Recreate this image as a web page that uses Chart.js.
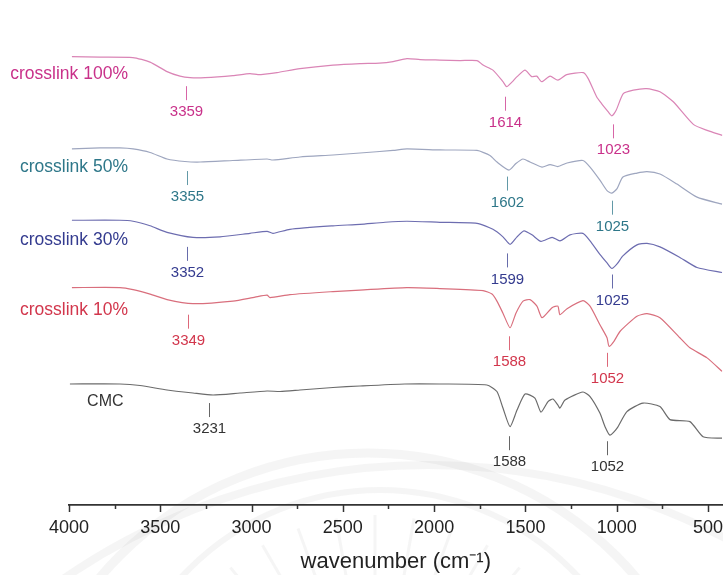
<!DOCTYPE html>
<html>
<head>
<meta charset="utf-8">
<title>FTIR spectra</title>
<script src="https://cdn.jsdelivr.net/npm/chart.js@4.4.1/dist/chart.umd.min.js"></script>
<style>
  html, body { margin: 0; padding: 0; background: #ffffff; }
  #wrap { width: 723px; height: 575px; position: relative; }
</style>
</head>
<body>
<div id="wrap"><canvas id="ftir"></canvas></div>
<script>
// Spectra (offset transmittance, a.u.) against wavenumber in cm^-1
const seriesNames = ['crosslink 100%', 'crosslink 50%', 'crosslink 30%', 'crosslink 10%', 'CMC'];

const wn100 = [3984,3830,3650,3556,3463,3392,3337,3255,3102,3009,2965,2926,2861,2735,2554,2406,2300,2225,2149,2077,1968,1858,1765,1732,1678,1623,1603,1574,1546,1502,1466,1438,1411,1365,1322,1274,1183,1156,1110,1082,1053,1027,1003,964,909,836,763,690,580,505,422];
const t100  = [89.3,89.2,89.1,88.2,86.3,85.4,85.1,85.1,85.5,85.9,85.7,85.8,86.1,86.9,87.6,87.9,88.0,88.3,88.9,88.7,88.6,88.5,88.5,87.6,86.6,84.3,83.3,84.2,85.3,86.6,85.3,85.4,84.3,85.4,84.6,85.7,86.1,84.9,81.3,79.9,78.6,77.5,78.6,81.9,82.6,82.9,82.3,80.3,75.8,74.6,73.6];

const wn50 = [3984,3830,3721,3649,3556,3463,3365,3282,3102,2915,2883,2735,2554,2406,2225,2149,1968,1765,1694,1656,1590,1552,1513,1475,1409,1365,1322,1272,1185,1146,1092,1053,1027,998,966,889,834,763,670,560,423];
const t50  = [70.9,71.1,71.1,70.9,70.2,68.9,68.4,68.3,68.6,68.9,68.7,69.3,69.7,70.1,70.6,70.9,70.7,70.6,69.6,68.3,66.7,68.0,68.9,68.3,67.3,67.8,67.4,68.1,68.6,67.3,64.7,62.6,62.1,63.0,65.3,66.1,66.4,65.9,63.9,61.3,59.9];

const wn30 = [3984,3721,3649,3556,3463,3321,3173,3009,2915,2883,2790,2554,2406,2269,2149,1968,1765,1678,1623,1584,1546,1508,1464,1415,1354,1311,1256,1185,1146,1092,1053,1026,998,966,889,834,763,654,560,423];
const t30  = [56.7,56.7,56.5,55.6,54.3,53.3,53.4,54.1,54.5,54.1,54.9,55.6,55.9,56.3,56.5,56.3,56.1,54.9,53.4,51.9,53.4,54.6,53.8,52.5,53.3,52.6,53.8,54.1,52.6,49.9,48.2,47.1,48.0,49.6,51.8,52.1,51.4,49.3,47.3,46.3];

const wn10 = [3984,3721,3649,3556,3463,3321,3102,2981,2915,2899,2790,2554,2406,2149,1968,1732,1683,1656,1623,1584,1552,1513,1475,1437,1409,1354,1322,1311,1272,1185,1146,1092,1053,1042,1015,981,889,834,763,654,599,505,423];
const t10  = [43.3,43.3,42.9,42.0,40.9,40.1,40.6,41.4,41.8,41.3,41.9,42.5,42.8,43.3,43.1,42.7,42.0,40.6,38.2,35.3,38.2,40.6,40.9,39.6,37.3,39.3,39.6,37.9,39.1,40.7,39.6,35.9,33.3,31.6,32.6,34.6,37.6,38.1,37.3,33.3,31.3,29.3,26.6];

const wnCMC = [3995,3721,3611,3463,3321,3211,3063,2915,2844,2735,2554,2406,2160,1968,1711,1656,1623,1584,1546,1502,1448,1415,1376,1349,1322,1311,1283,1185,1146,1092,1064,1037,998,944,856,763,708,599,527,423];
const tCMC  = [24.1,24.1,23.8,22.9,22.3,21.9,22.3,22.7,22.6,22.9,23.4,23.7,24.1,24.1,23.9,22.6,19.3,15.6,18.9,22.1,21.3,18.5,20.6,21.1,19.9,19.3,20.9,22.5,21.6,18.3,15.6,13.9,15.3,18.6,20.3,19.6,17.0,16.6,13.6,13.3];

// Assigned band positions (cm^-1) and the level at which each marker starts
const peaks100 = [3359, 1614, 1023];  const peakLevels100 = [83.4, 81.3, 75.8];
const peaks50  = [3355, 1602, 1025];  const peakLevels50  = [66.5, 65.4, 60.6];
const peaks30  = [3352, 1599, 1025];  const peakLevels30  = [51.4, 50.1, 45.9];
const peaks10  = [3349, 1588, 1052];  const peakLevels10  = [37.9, 33.6, 30.3];
const peaksCMC = [3231, 1588, 1052];  const peakLevelsCMC = [20.3, 13.7, 12.7];

// Where each spectrum's name sits (wavenumber anchor, level)
const nameAnchorWn = [3677, 3677, 3677, 3677, 3901];
const nameLevels   = [85.7, 67.3, 52.7, 38.7, 20.5];

const majorTicks = [4000, 3500, 3000, 2500, 2000, 1500, 1000, 500];
const minorTicks = [3750, 3250, 2750, 2250, 1750, 1250, 750];

const lineColors = ['#da85b6', '#9ea6bf', '#6d6db0', '#d96f7d', '#6b6b6b'];
const textColors = ['#c9318a', '#2e7789', '#343b8f', '#d2364c', '#333333'];
const FONT = "'Liberation Sans', Arial, Helvetica, sans-serif";

const spectra = [
  { wn: wn100, t: t100, peaks: peaks100, levels: peakLevels100 },
  { wn: wn50,  t: t50,  peaks: peaks50,  levels: peakLevels50 },
  { wn: wn30,  t: t30,  peaks: peaks30,  levels: peakLevels30 },
  { wn: wn10,  t: t10,  peaks: peaks10,  levels: peakLevels10 },
  { wn: wnCMC, t: tCMC, peaks: peaksCMC, levels: peakLevelsCMC }
];

const datasets = spectra.map((s, i) => ({
  label: seriesNames[i],
  data: s.wn.map((w, k) => ({ x: w, y: s.t[k] })),
  borderColor: lineColors[i],
  borderWidth: 1.2,
  pointRadius: 0,
  tension: 0.2,
  fill: false
}));

// Faint seal in the page background
const sealPlugin = {
  id: 'seal',
  beforeDraw(chart) {
    const ctx = chart.ctx;
    ctx.save();
    ctx.strokeStyle = 'rgba(120,120,120,0.07)';
    ctx.lineWidth = 8;
    ctx.beginPath(); ctx.arc(428, 1105, 640, Math.PI, 2 * Math.PI); ctx.stroke();
    ctx.lineWidth = 9;
    ctx.beginPath(); ctx.arc(368, 804, 351, Math.PI, 2 * Math.PI); ctx.stroke();
    ctx.lineWidth = 6;
    ctx.beginPath(); ctx.arc(380, 760, 270, Math.PI, 2 * Math.PI); ctx.stroke();
    ctx.lineWidth = 3;
    for (let a = -50; a <= 50; a += 10) {
      const r = a * Math.PI / 180;
      ctx.beginPath();
      ctx.moveTo(375 + Math.sin(r) * 150, 740 - Math.cos(r) * 150);
      ctx.lineTo(375 + Math.sin(r) * 225, 740 - Math.cos(r) * 225);
      ctx.stroke();
    }
    ctx.restore();
  }
};

// Tick marks on the wavenumber axis, spectrum names and band labels
const annotatePlugin = {
  id: 'annotate',
  afterDraw(chart) {
    const ctx = chart.ctx;
    const xs = chart.scales.x, ys = chart.scales.y;
    ctx.save();
    ctx.strokeStyle = '#333333';
    ctx.lineWidth = 1.5;
    const y0 = xs.top;
    majorTicks.forEach(v => {
      const px = Math.round(xs.getPixelForValue(v)) + 0.5;
      ctx.beginPath(); ctx.moveTo(px, y0); ctx.lineTo(px, y0 + 7); ctx.stroke();
    });
    minorTicks.forEach(v => {
      const px = Math.round(xs.getPixelForValue(v)) + 0.5;
      ctx.beginPath(); ctx.moveTo(px, y0); ctx.lineTo(px, y0 + 4); ctx.stroke();
    });

    ctx.textBaseline = 'middle';
    seriesNames.forEach((name, i) => {
      const isCMC = i === seriesNames.length - 1;
      ctx.font = (isCMC ? '16px ' : '17.5px ') + FONT;
      ctx.fillStyle = textColors[i];
      ctx.textAlign = isCMC ? 'left' : 'right';
      ctx.fillText(name, xs.getPixelForValue(nameAnchorWn[i]), ys.getPixelForValue(nameLevels[i]));
    });

    spectra.forEach((s, i) => {
      s.peaks.forEach((p, k) => {
        const px = Math.round(xs.getPixelForValue(p)) + 0.5;
        const top = ys.getPixelForValue(s.levels[k]);
        ctx.strokeStyle = textColors[i];
        ctx.globalAlpha = 0.75;
        ctx.lineWidth = 1;
        ctx.beginPath(); ctx.moveTo(px, top); ctx.lineTo(px, top + 14); ctx.stroke();
        ctx.globalAlpha = 1;
        ctx.font = '15px ' + FONT;
        ctx.fillStyle = textColors[i];
        ctx.textAlign = 'center';
        ctx.fillText(String(p), px, top + 26);
      });
    });
    ctx.restore();
  }
};

new Chart(document.getElementById('ftir'), {
  type: 'line',
  data: { datasets },
  plugins: [sealPlugin, annotatePlugin],
  options: {
    responsive: true,
    maintainAspectRatio: false,
    animation: false,
    layout: { padding: { left: 69, right: 0, top: 43, bottom: 0 } },
    plugins: { legend: { display: false }, tooltip: { enabled: false } },
    scales: {
      x: {
        type: 'linear',
        reverse: true,
        min: 420,
        max: 4000,
        afterBuildTicks: (scale) => { scale.ticks = majorTicks.map(v => ({ value: v })); },
        grid: { display: true, drawOnChartArea: false, drawTicks: true, tickLength: 12, tickColor: 'rgba(0,0,0,0)' },
        border: { display: true, color: '#333333', width: 1.8 },
        ticks: {
          autoSkip: false, maxRotation: 0, padding: 0, color: '#222222',
          font: { family: FONT, size: 18 },
          callback: (v) => String(v)
        },
        title: {
          display: true, text: 'wavenumber (cm⁻¹)', color: '#222222',
          font: { family: FONT, size: 22 }, padding: { top: 10, bottom: 0 }
        }
      },
      y: { type: 'linear', display: false, min: 0, max: 92 }
    }
  }
});
</script>
</body>
</html>
